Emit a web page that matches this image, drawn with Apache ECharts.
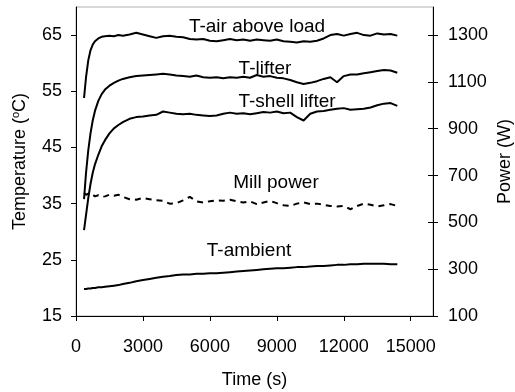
<!DOCTYPE html>
<html>
<head>
<meta charset="utf-8">
<script src="https://cdn.jsdelivr.net/npm/echarts@6/dist/echarts.min.js"></script>
<style>html,body{margin:0;padding:0;background:#fff;}#c{width:515px;height:392px;}</style>
</head>
<body>
<div id="c"></div>
<script>
var times = [360,450,550,650,750,850,1000,1150,1300,1500,1700,1900,2100,2400,2700,3000,3300,3600,3900,4200,4500,4800,5100,5400,5700,6000,6300,6600,6900,7200,7500,7800,8100,8400,8700,9000,9300,9600,9900,10200,10500,10800,11100,11400,11700,12000,12300,12600,12900,13200,13500,13800,14100,14400];
var tAir = [53.8,57.5,60.5,62.3,63.3,63.9,64.4,64.7,64.8,64.9,64.8,65.0,64.9,65.1,65.4,65.1,64.8,64.5,64.8,64.9,64.7,64.6,64.3,64.2,64.3,64.0,63.9,64.1,64.3,64.1,64.2,64.0,64.2,64.1,64.0,64.2,63.9,63.8,63.7,63.9,63.8,64.0,64.4,65.0,65.2,64.9,65.2,65.4,65.0,64.9,65.3,65.1,65.2,64.9];
var tLifter = [35.8,40.5,44.5,47.5,49.8,51.5,53.3,54.5,55.3,56.0,56.5,56.9,57.2,57.5,57.7,57.8,57.9,58.0,58.1,58.0,57.8,57.7,57.6,57.8,57.5,57.4,57.5,57.3,57.5,57.4,57.6,57.4,57.9,57.6,57.7,57.4,57.3,57.0,56.6,56.3,56.5,56.8,57.2,57.5,56.6,57.7,58.0,58.0,58.2,58.4,58.6,58.8,58.7,58.3];
var tShell = [30.3,33.0,36.0,38.5,40.5,42.0,43.7,45.2,46.3,47.5,48.4,49.0,49.5,50.1,50.4,50.5,50.7,50.8,51.4,51.2,51.0,50.9,51.0,50.8,50.7,50.6,50.7,51.0,51.2,51.0,51.1,50.9,51.1,51.3,51.2,51.4,51.1,51.2,50.4,49.8,51.0,51.4,51.5,51.7,51.9,52.0,51.7,51.8,51.9,52.1,52.5,52.8,52.9,52.4];
var tAmbient = [19.8,19.8,19.9,19.9,20.0,20.0,20.1,20.1,20.2,20.3,20.4,20.5,20.7,20.9,21.2,21.4,21.6,21.8,22.0,22.1,22.3,22.4,22.4,22.5,22.5,22.6,22.6,22.7,22.8,22.9,23.0,23.1,23.2,23.3,23.4,23.5,23.5,23.6,23.7,23.7,23.8,23.9,23.9,24.0,24.1,24.1,24.2,24.2,24.3,24.3,24.3,24.3,24.2,24.2];
var millPower = [626,618,623,616,618,611,616,609,611,618,614,618,609,599,597,604,599,594,592,580,582,594,609,590,585,590,594,592,597,590,585,590,578,585,592,582,573,570,580,585,578,580,575,570,568,570,556,570,580,575,568,573,578,570];
var xTicks = [0,3000,6000,9000,12000,15000];
var tempTicks = [15,25,35,45,55,65];
var powerTicks = [100,300,500,700,900,1100,1300];
var seriesLabels = ['T-air above load','T-lifter','T-shell lifter','Mill power','T-ambient'];

function pairs(v){ return times.map(function(t,i){ return [t, v[i]]; }); }
function plain(v){ return String(v); }

var font = 'Liberation Sans, Arial, sans-serif';
var chart = echarts.init(document.getElementById('c'), null, {renderer:'canvas'});
var lineS = {color:'#000', width:2};
function mk(name, data, yi, dashed){
  return {name:name, type:'line', data:pairs(data), yAxisIndex:yi, showSymbol:false, symbol:'none',
    lineStyle: dashed ? {color:'#000', width:2, type:[6,5]} : lineS, animation:false, z:3};
}
chart.setOption({
  animation:false,
  backgroundColor:'#fff',
  grid:{left:76, right:82, top:7, bottom:76, outerBoundsMode:'none', containLabel:false, show:true, borderColor:'#b0b0b0', borderWidth:1, backgroundColor:'#fff'},
  xAxis:{type:'value', min:0, max:16000, interval:3000,
    name:'Time (s)', nameLocation:'middle', nameGap:55, nameMoveOverlap:false,
    nameTextStyle:{fontFamily:font, fontSize:18, color:'#000'},
    axisLine:{show:true, lineStyle:{color:'#000', width:1}},
    axisTick:{show:true, inside:false, length:5, lineStyle:{color:'#000'}, customValues:xTicks},
    axisLabel:{fontFamily:font, fontSize:18, color:'#000', margin:22, customValues:xTicks, formatter:plain},
    splitLine:{show:false}},
  yAxis:[
    {type:'value', min:15, max:70, position:'left',
     name:'{a|Temperature (}{s|o}{a|C)}', nameLocation:'middle', nameGap:46, nameRotate:90, nameMoveOverlap:false,
     nameTextStyle:{rich:{a:{fontFamily:font, fontSize:18, color:'#000'}, s:{fontFamily:font, fontSize:11, color:'#000', padding:[0,0,9,0]}}},
     axisLine:{show:true, lineStyle:{color:'#000', width:1}},
     axisTick:{show:true, inside:false, length:5, lineStyle:{color:'#000'}, customValues:tempTicks},
     axisLabel:{fontFamily:font, fontSize:18, color:'#000', margin:14, customValues:tempTicks, formatter:plain},
     splitLine:{show:false}},
    {type:'value', min:100, max:1420, position:'right',
     name:'Power (W)', nameLocation:'middle', nameGap:63, nameRotate:90, nameMoveOverlap:false,
     nameTextStyle:{fontFamily:font, fontSize:18, color:'#000'},
     axisLine:{show:true, lineStyle:{color:'#000', width:1}},
     axisTick:{show:true, inside:false, length:5, lineStyle:{color:'#000'}, customValues:powerTicks},
     axisLabel:{fontFamily:font, fontSize:18, color:'#000', margin:15, customValues:powerTicks, formatter:plain},
     splitLine:{show:false}},
    {type:'value', min:100, max:1420, position:'right',
     axisLine:{show:false},
     axisTick:{show:true, inside:true, length:5, lineStyle:{color:'#000'}, customValues:powerTicks},
     axisLabel:{show:false},
     splitLine:{show:false}}
  ],
  series:[
    mk(seriesLabels[0], tAir, 0),
    mk(seriesLabels[1], tLifter, 0),
    mk(seriesLabels[2], tShell, 0),
    mk(seriesLabels[3], millPower, 1, true),
    mk(seriesLabels[4], tAmbient, 0)
  ]
});
var lab = [[seriesLabels[0],257,27],[seriesLabels[1],265,69],[seriesLabels[2],287,102],[seriesLabels[3],276,183],[seriesLabels[4],249,251]];
chart.setOption({graphic: lab.map(function(l){
  return {type:'text', x:l[1], y:l[2], z:10, style:{text:l[0], fontFamily:font, fontSize:19, fill:'#000', align:'center', verticalAlign:'middle'}};
})});
</script>
</body>
</html>
